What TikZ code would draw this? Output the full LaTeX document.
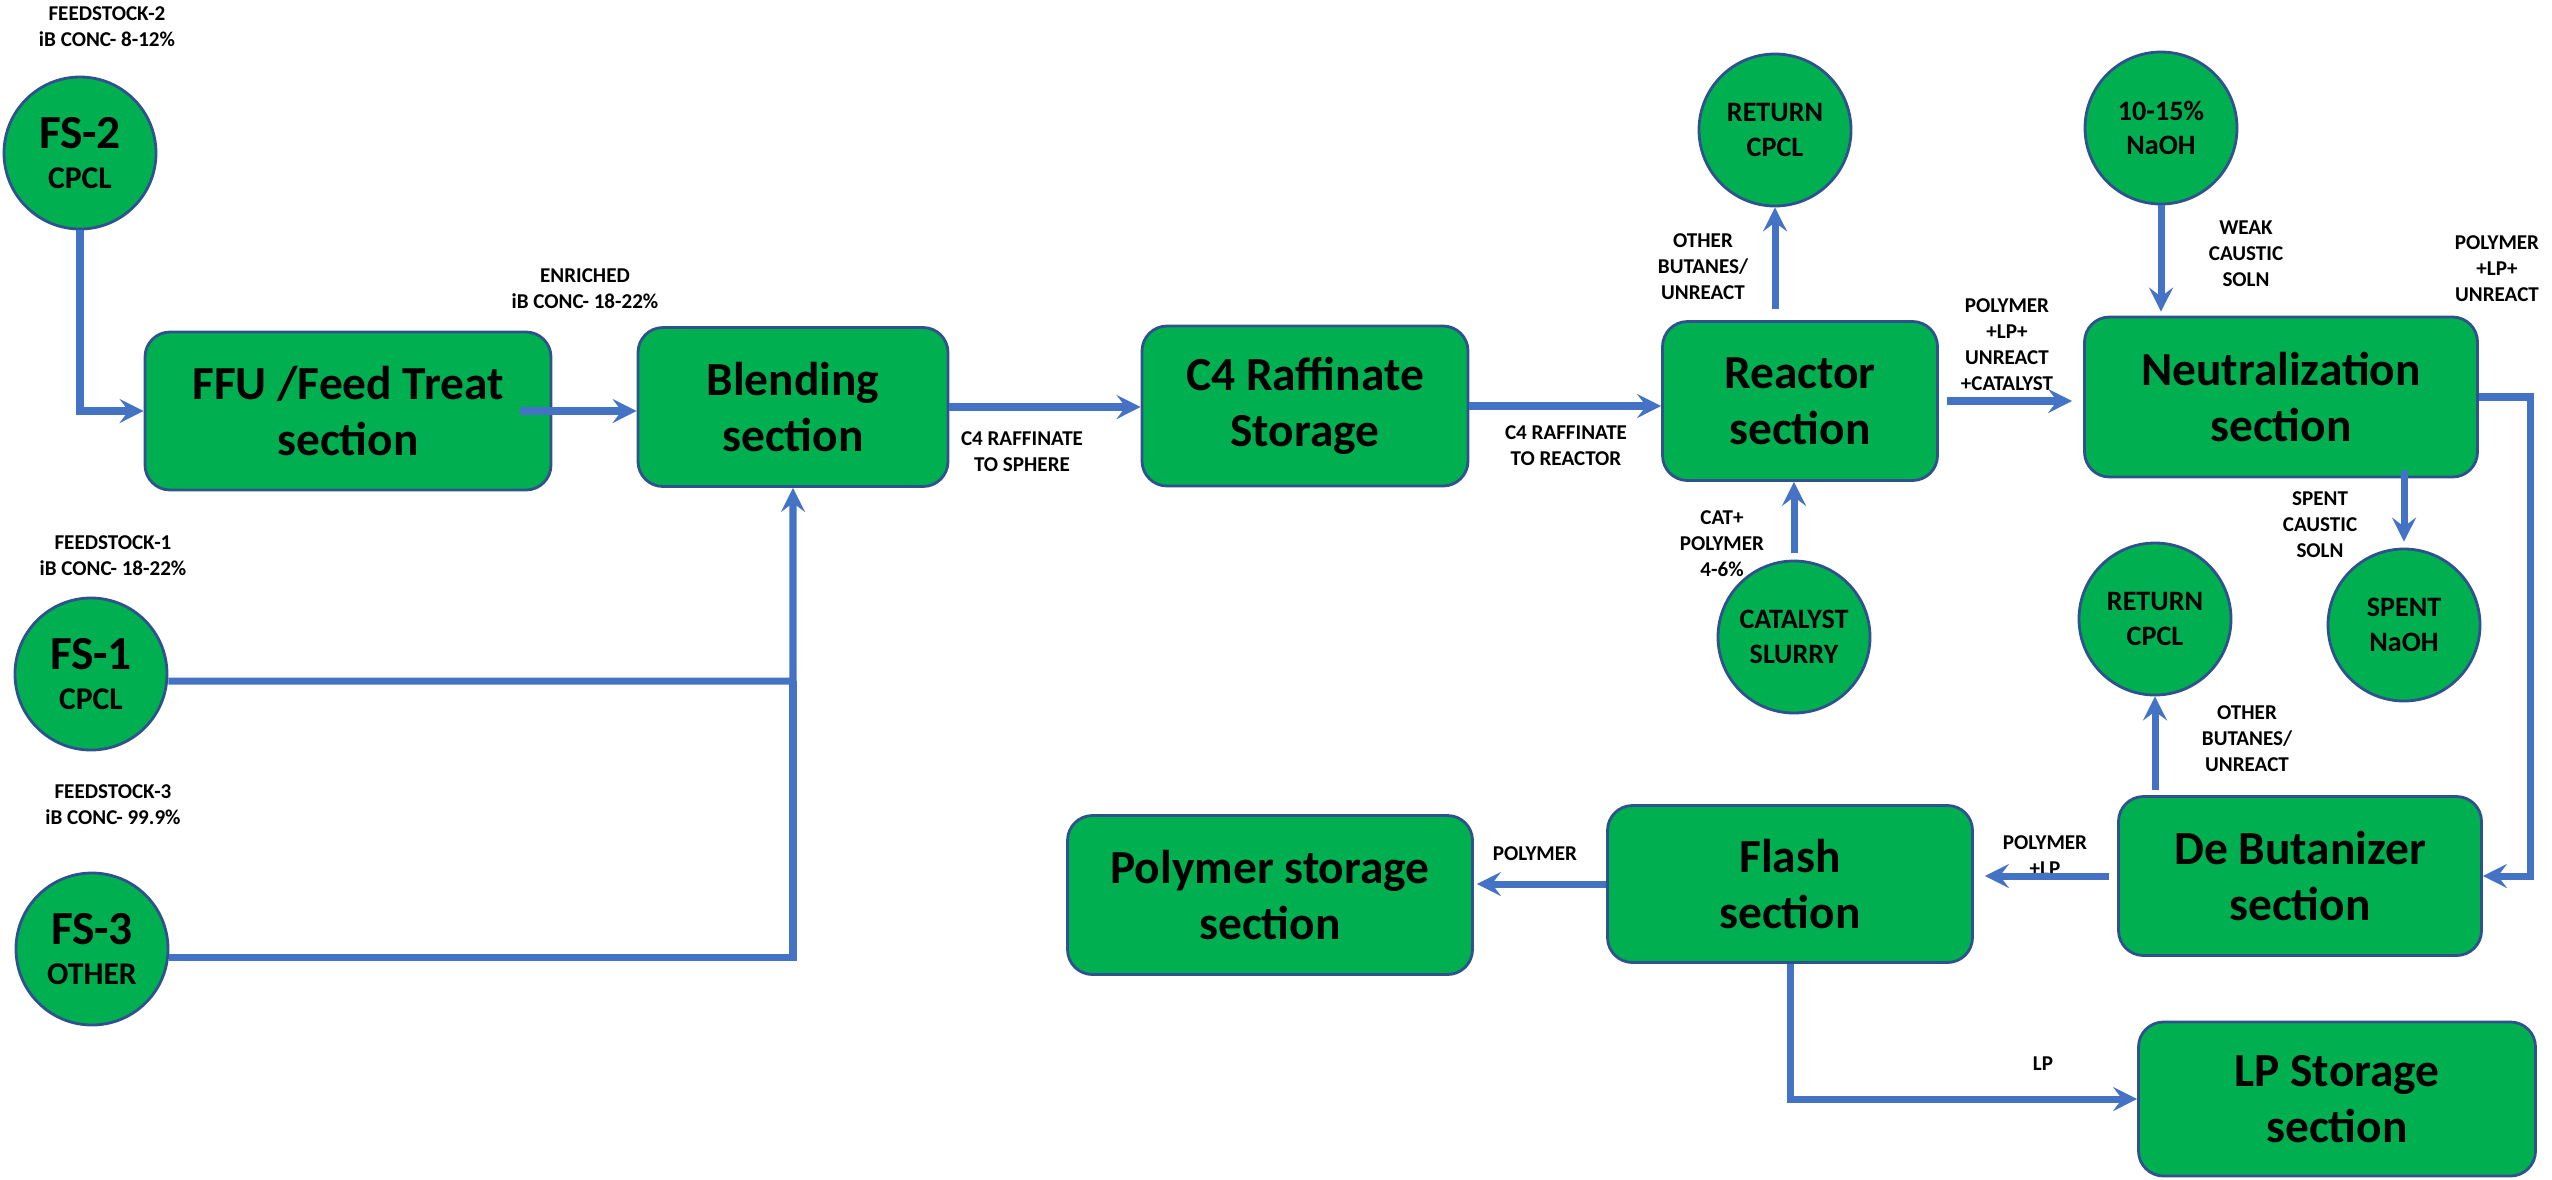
\documentclass[tikz,border=0pt]{standalone}
\usepackage{fontspec}
\setmainfont{Carlito}
\usepackage{xcolor}
\usetikzlibrary{positioning,arrows.meta,calc}
\definecolor{unitgreen}{HTML}{00B050}
\definecolor{unitedge}{HTML}{2F528F}
\definecolor{flowblue}{HTML}{4472C4}

\begin{document}
\begin{tikzpicture}[
    x=0.1mm, y=-0.1mm,
    unit/.style={draw=unitedge, fill=unitgreen, line width=0.8pt, rounded corners=2.5mm,
      align=center, inner sep=0pt, font=\bfseries\fontsize{13.5}{16}\selectfont},
    tank/.style={circle, draw=unitedge, fill=unitgreen, line width=0.8pt, minimum size=15.2mm,
      inner sep=0pt, align=center, font=\bfseries\fontsize{8}{9.8}\selectfont},
    feed/.style={tank, font=\bfseries\fontsize{9}{13}\selectfont},
    tag/.style={align=center, inner sep=0pt, font=\bfseries\fontsize{6}{7.4}\selectfont},
    pipe/.style={draw=flowblue, line width=2pt},
    arr/.style={pipe, -{Stealth[length=2.4mm, width=2.4mm, inset=0.9mm]}},
  ]
  \useasboundingbox (0,0) rectangle (2552,1179);

  % feed stocks
  \node[feed] (fs2) at (80,153) {\raisebox{-0.6mm}{\fontsize{13.5}{13}\selectfont FS-2}\\CPCL};
  \node[feed] (fs1) at (91,674) {\raisebox{-0.6mm}{\fontsize{13.5}{13}\selectfont FS-1}\\CPCL};
  \node[feed] (fs3) at (92,949) {\raisebox{-0.6mm}{\fontsize{13.5}{13}\selectfont FS-3}\\OTHER};
  \node[tag] (lblfs2) at (107,27) {FEEDSTOCK-2\\iB CONC- 8-12\%};
  \node[tag] (lblfs1) at (113,556) {FEEDSTOCK-1\\iB CONC- 18-22\%};
  \node[tag] (lblfs3) at (113,805) {FEEDSTOCK-3\\iB CONC- 99.9\%};

  % process sections
  \node[unit, minimum width=40.6mm, minimum height=15.8mm] (ffu) at (348,411) {FFU /Feed Treat\\section};
  \node[unit, minimum width=31mm, minimum height=15.9mm] (blend) at (793,407) {Blending\\section};
  \node[unit, minimum width=32.6mm, minimum height=16mm] (c4) at (1305,406) {C4 Raffinate\\Storage};
  \node[unit, minimum width=27.5mm, minimum height=15.9mm] (reactor) at (1800,401) {Reactor\\section};
  \node[unit, minimum width=39.3mm, minimum height=16mm] (neutral) at (2281,397) {Neutralization\\section};
  \node[unit, minimum width=36.3mm, minimum height=15.9mm] (debut) at (2300,876) {De Butanizer\\section};
  \node[unit, minimum width=36.5mm, minimum height=15.7mm] (flash) at (1790,884) {Flash\\section};
  \node[unit, minimum width=40.5mm, minimum height=15.9mm] (polymer) at (1270,895) {Polymer storage\\section};
  \node[unit, minimum width=39.7mm, minimum height=15.4mm] (lpstor) at (2337,1099) {LP Storage\\section};

  % side streams
  \node[tank] (ret1) at (1775,130) {RETURN\\CPCL};
  \node[tank] (naoh) at (2161,128) {10-15\%\\NaOH};
  \node[tank] (cat) at (1794,637) {CATALYST\\SLURRY};
  \node[tank] (ret2) at (2155,619) {RETURN\\CPCL};
  \node[tank] (spent) at (2404,625) {SPENT\\NaOH};

  % stream labels
  \node[tag] (lblenr) at (585,289) {ENRICHED\\iB CONC- 18-22\%};
  \node[tag] (lblsph) at (1022,452) {C4 RAFFINATE\\TO SPHERE};
  \node[tag] (lblrea) at (1566,446) {C4 RAFFINATE\\TO REACTOR};
  \node[tag] (lblret1) at (1703,267) {OTHER\\BUTANES/\\UNREACT};
  \node[tag] (lblout) at (2007,345) {POLYMER\\+LP+\\UNREACT\\+CATALYST};
  \node[tag] (lblweak) at (2246,254) {WEAK\\CAUSTIC\\SOLN};
  \node[tag] (lblrecy) at (2497,269) {POLYMER\\+LP+\\UNREACT};
  \node[tag] (lblspent) at (2320,525) {SPENT\\CAUSTIC\\SOLN};
  \node[tag] (lblcat) at (1722,544) {CAT+\\POLYMER\\4-6\%};
  \node[tag] (lblret2) at (2247,739) {OTHER\\BUTANES/\\UNREACT};
  \node[tag] (lblpl) at (2045,856) {POLYMER\\+LP};
  \node[tag] (lblpoly) at (1535,854) {POLYMER};
  \node[tag] (lbllp) at (2043,1064) {LP};

  % feed lines
  \coordinate (join) at (793,681);
  \draw[arr] (fs2.south) |- (ffu.west);
  \draw[arr] ([yshift=-0.7mm]fs1.east) -- (join) -- (blend.south);
  \draw[pipe] ([yshift=-0.8mm]fs3.east) -| (join);

  % main flow
  \draw[arr] ([xshift=-3.2mm]ffu.east) -- (ffu.east -| blend.west);
  \draw[arr] (blend.east) -- (blend.east -| c4.west);
  \draw[arr] (c4.east) -- (c4.east -| reactor.west);
  \draw[arr, shorten <=0.8mm, shorten >=1.1mm] (reactor.east) -- (reactor.east -| neutral.west);
  \draw[arr, shorten <=1.1mm] (reactor.north -| ret1.south) -- (ret1.south);
  \draw[arr, shorten <=0.7mm] (cat.north) -- (cat.north |- reactor.south);
  \draw[arr, shorten >=0.4mm] (naoh.south) -- (naoh.south |- neutral.north);
  \draw[arr, shorten <=-0.8mm, shorten >=0.6mm] (spent.north |- neutral.south) -- (spent.north);
  % recycle line runs down the right edge into the de-butanizer
  \draw[arr] (neutral.east) -- ++(5.2mm,0) |- (debut.east);
  \draw[arr, shorten <=0.5mm] (debut.north -| ret2.south) -- (ret2.south);
  \draw[arr, shorten <=0.8mm, shorten >=1.1mm] (debut.west) -- (debut.west -| flash.east);
  \draw[arr, shorten >=0.3mm] (flash.west) -- (flash.west -| polymer.east);
  \draw[arr] (flash.south) |- (lpstor.west);
\end{tikzpicture}
\end{document}
